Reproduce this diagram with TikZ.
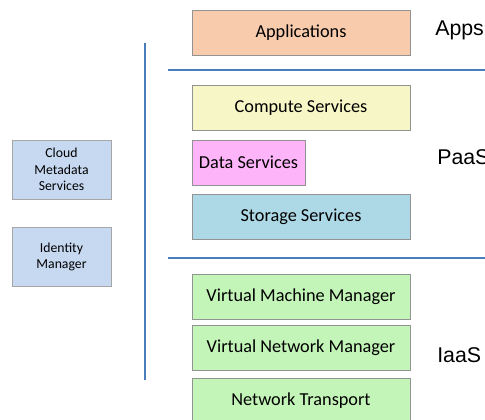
\documentclass[tikz,border=0pt]{standalone}
\usepackage{fontspec}
\setmainfont{Carlito}
\newfontfamily\arialfont{Liberation Sans}
\usetikzlibrary{positioning}
\definecolor{appcol}{HTML}{F8CBAD}
\definecolor{compcol}{HTML}{F6F6C6}
\definecolor{datacol}{HTML}{FDB4F9}
\definecolor{storcol}{HTML}{ADD8E6}
\definecolor{iaascol}{HTML}{C4F5B8}
\definecolor{sidecol}{HTML}{C6D9F1}
\definecolor{linecol}{HTML}{4A7EBB}
\tikzset{
every node/.style={font=\fontsize{13.7}{16}\selectfont},
layer/.style={draw=gray!85, minimum width=163.5pt, minimum height=33.75pt, inner sep=0pt},
side/.style={draw=gray!70, minimum width=74.25pt, minimum height=44.25pt, align=center, inner sep=0pt, font=\fontsize{10.3}{12.2}\selectfont},
tier/.style={font=\arialfont\fontsize{16}{18}\selectfont, inner sep=0pt},
sep/.style={draw=linecol, line width=1.5pt},
}

\begin{document}
\begin{tikzpicture}[x=0.75pt, y=-0.75pt]
\useasboundingbox (0,0) rectangle (485,420);
    \node[layer, fill=appcol] (app) at (301,33) {Applications};
    \node[layer, fill=compcol] (comp) at (301,107.5) {Compute Services};
    \node[layer, fill=datacol, minimum width=84.75pt] (data) at (248.5,162.5) {Data Services};
    \node[layer, fill=storcol] (stor) at (301,216.5) {Storage Services};
    \node[layer, fill=iaascol] (vmm) at (301,296.5) {Virtual Machine Manager};
    \node[layer, fill=iaascol] (vnm) at (301,347.5) {Virtual Network Manager};
    \node[layer, fill=iaascol] (nt) at (301,401) {Network Transport};

    \node[side, fill=sidecol] (meta) at (61.5,169.5) {Cloud\\Metadata\\Services};
    \node[side, fill=sidecol] (idm) at (61.5,257) {Identity\\Manager};

    \node[tier, anchor=base west] (apps) at (435,36) {Apps};
    \node[tier, anchor=base west] (paas) at (437,165) {PaaS};
    \node[tier, anchor=base west] (iaas) at (437,362) {IaaS};

    \coordinate (s1l) at (168,70);
    \coordinate (s1r) at (485,70);
    \coordinate (s2l) at (168,258);
    \coordinate (s2r) at (485,258);
    \coordinate (vt) at (145,43);
    \coordinate (vb) at (145,380);

    \draw[sep] (s1l) -- (s1r);
    \draw[sep] (s2l) -- (s2r);
    \draw[sep] (vt) -- (vb);
\end{tikzpicture}
\end{document}
